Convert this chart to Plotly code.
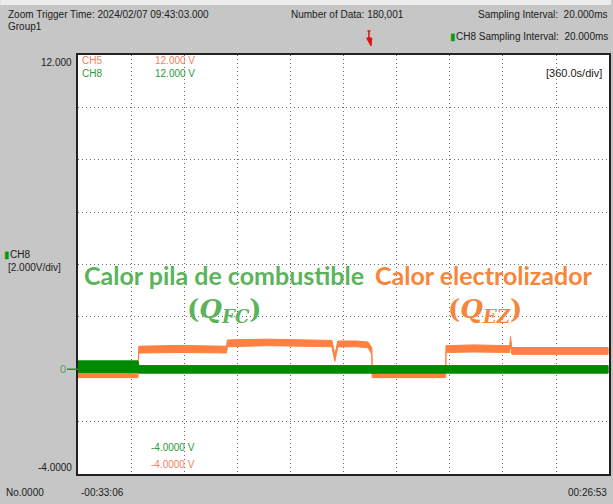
import plotly.graph_objects as go

# ---------------- data ----------------
# time axis in seconds relative to trigger; range -00:33:06 .. 00:26:53
t_start = -1986
t_end = 1613
sec_per_div = 360
y_min, y_max, v_per_div = -4.0, 12.0, 2.0

# CH5 (orange) envelope: time, lower edge, upper edge  [V]
ch5_t  = [-1986, -1580, -1574, -1300, -980, -973, -700, -400, -265, -245, -225, -100, -20, 2, 6, 8, 506, 508, 700, 940, 945, 955, 1200, 1607]
ch5_lo = [-0.32, -0.32, 0.62, 0.64, 0.62, 0.86, 0.90, 0.88, 0.86, 0.30, 0.85, 0.86, 0.82, 0.60, 0.50, -0.32, -0.32, 0.64, 0.66, 0.64, 0.90, 0.57, 0.58, 0.57]
ch5_hi = [-0.02, -0.02, 0.88, 0.91, 0.88, 1.12, 1.15, 1.12, 1.10, 0.55, 1.08, 1.08, 1.04, 0.85, 0.78, -0.05, -0.05, 0.90, 0.93, 0.90, 1.25, 0.83, 0.84, 0.83]

# CH8 (green) envelope
ch8_t  = [-1986, -1580, -1574, -400, 6, 506, 945, 1607]
ch8_lo = [-0.12, -0.12, -0.15, -0.15, -0.17, -0.15, -0.15, -0.15]
ch8_hi = [0.32, 0.32, 0.14, 0.14, 0.13, 0.14, 0.14, 0.14]

header_left = "Zoom Trigger Time: 2024/02/07 09:43:03.000"
header_group = "Group1"
header_mid = "Number of Data: 180,001"
header_right1 = "Sampling Interval:  20.000ms"
header_right2 = "CH8 Sampling Interval:  20.000ms"
y_top_label = "12.000"
y_bot_label = "-4.0000"
x_left_label = "-00:33:06"
x_right_label = "00:26:53"
ch5_top, ch8_top = "12.000 V", "12.000 V"
ch5_bot, ch8_bot = "-4.0000 V", "-4.0000 V"
time_div = "[360.0s/div]"

# ---------------- styling ----------------
W, H = 613, 504
L, R, T, B = 78, 2, 55, 30
PW, PH = W - L - R, H - T - B
ORANGE = "#ff8040"
GREEN = "#008a00"
TXT_ORANGE = "#f7853a"
TXT_GREEN = "#5cb35c"
BG = "#c6c6c6"
SANS = "Liberation Sans Narrow, Liberation Sans, Arial"
MARK = "<span style='color:#0a9a0a'>▮</span>"

def px(x):
    return (x - L) / PW

def py(y):
    return (H - B - y) / PH

fig = go.Figure()

fig.add_trace(go.Scatter(
    x=ch5_t + ch5_t[::-1], y=ch5_hi + ch5_lo[::-1],
    fill="toself", fillcolor=ORANGE, mode="lines",
    line=dict(color=ORANGE, width=1), hoverinfo="skip", showlegend=False))
fig.add_trace(go.Scatter(
    x=ch8_t + ch8_t[::-1], y=ch8_hi + ch8_lo[::-1],
    fill="toself", fillcolor=GREEN, mode="lines",
    line=dict(color=GREEN, width=1), hoverinfo="skip", showlegend=False))

grid = dict(showticklabels=False, ticks="", zeroline=False,
            showgrid=True, gridcolor="#6a6a6a", griddash="1px,3px", gridwidth=1,
            showline=True, linecolor="#222", linewidth=1.5, mirror=True)
fig.update_layout(
    width=W, height=H,
    margin=dict(l=L, r=R, t=T, b=B),
    paper_bgcolor=BG, plot_bgcolor="white",
    showlegend=False,
    xaxis=dict(range=[t_start, t_end], tick0=t_start, dtick=sec_per_div, **grid),
    yaxis=dict(range=[y_min, y_max], tick0=y_min, dtick=v_per_div, **grid),
)

shapes = [
    dict(type="rect", xref="paper", yref="paper", x0=px(0), x1=px(W), y0=py(5), y1=py(0),
         fillcolor="#ececec", line=dict(width=0), layer="below"),
    # left zero marker line
    dict(type="line", xref="paper", yref="y", x0=px(67), x1=px(78), y0=0, y1=0,
         line=dict(color="#2e8b2e", width=1.5)),
    # trigger marker
    dict(type="line", xref="x", yref="paper", x0=-14, x1=-14, y0=py(31), y1=py(40),
         line=dict(color="#e01010", width=1.5)),
    dict(type="line", xref="x", yref="paper", x0=-24, x1=-4, y0=py(31), y1=py(31),
         line=dict(color="#e01010", width=1.5)),
    dict(type="path", xref="x", yref="paper",
         path=f"M -30 {py(38)} L 6 {py(38)} L 0 {py(46)} Z",
         fillcolor="#e01010", line=dict(color="#e01010", width=1)),
]
fig.update_layout(shapes=shapes)

def ann(x, y, text, color="#202020", size=10, anchor="left", font=SANS, **kw):
    fig.add_annotation(x=px(x), y=py(y), xref="paper", yref="paper", text=text,
                       showarrow=False, xanchor=anchor, yanchor="middle",
                       font=dict(family=font, size=size, color=color), **kw)

ann(6, 14, header_left)
ann(6, 26, header_group)
ann(290, 14, header_mid)
ann(612, 14, header_right1, anchor="right")
ann(612, 36, MARK + header_right2, anchor="right")

ann(74, 62, y_top_label, anchor="right")
ann(74, 467, y_bot_label, anchor="right")
ann(2, 254, MARK + "CH8")
ann(6, 267, "[2.000V/div]")
ann(63, 369, "0", color="#5a9a6a", size=11, anchor="center")
ann(4, 492, "No.0000")
ann(79, 492, x_left_label)
ann(611, 492, x_right_label, anchor="right")

ann(80, 61, "CH5", color="#f08060")
ann(80, 73, "CH8", color="#2a9a3a")
ann(197, 61, ch5_top, color="#f08060", anchor="right")
ann(197, 73, ch8_top, color="#2a9a3a", anchor="right")
ann(197, 447, ch8_bot, color="#2a9a3a", anchor="right")
ann(197, 464, ch5_bot, color="#f08060", anchor="right")
ann(606, 73, time_div, size=11, anchor="right")

ann(225, 275, "<b>Calor pila de combustible</b>", color=TXT_GREEN, size=25,
    anchor="center", font="Lato, Open Sans")
ann(225, 310, "<b>(<i>Q</i><sub><i>FC</i></sub>)</b>", color=TXT_GREEN, size=26,
    anchor="center", font="DejaVu Serif")
ann(486, 275, "<b>Calor electrolizador</b>", color=TXT_ORANGE, size=25,
    anchor="center", font="Lato, Open Sans")
ann(487, 310, "<b>(<i>Q</i><sub><i>EZ</i></sub>)</b>", color=TXT_ORANGE, size=26,
    anchor="center", font="DejaVu Serif")

fig.write_html("out.html", config={"displayModeBar": False},
               post_script="document.body.style.margin='0';")
